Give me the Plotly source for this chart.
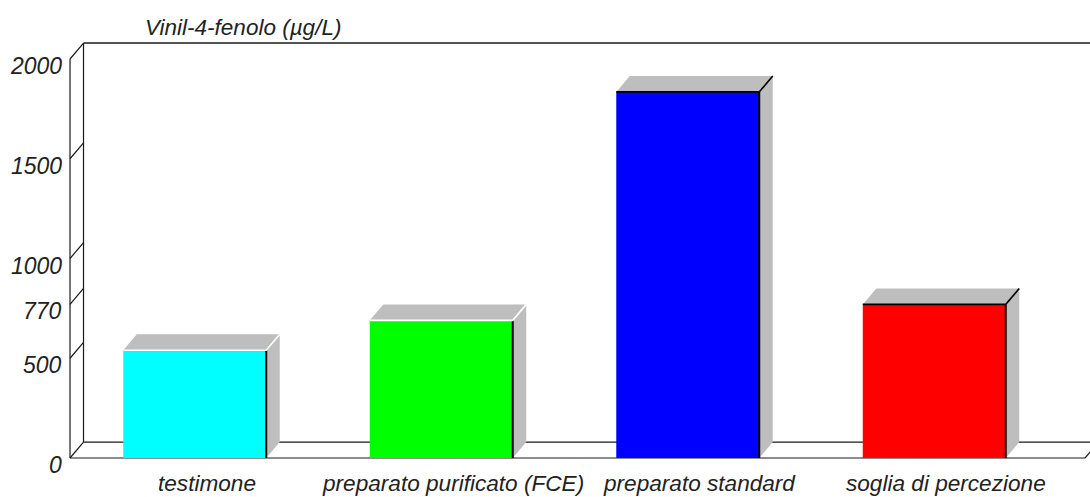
import plotly.graph_objects as go

# Vinyl-4-phenol content per sample (µg/L)
categories = ["testimone", "preparato purificato (FCE)", "preparato standard", "soglia di percezione"]
values = [540, 690, 1835, 770]
bar_colors = ["#00FFFF", "#00FF00", "#0000FF", "#FF0000"]
highlight_colors = ["white", "white", "black", "black"]
y_tick_values = [0, 500, 770, 1000, 1500, 2000]
y_tick_labels = ["0", "500", "770", "1000", "1500", "2000"]
title_text = "Vinil-4-fenolo (µg/L)"

# pseudo-3D geometry, in axis units
BAR_W = 0.58
DX = 0.0548          # depth offset along x
DY = 80              # depth offset along y
WALL_X = -0.506      # front edge of the left wall
Y_TOP = 2000
FLOOR_END = 3.6116
X_RANGE = [-0.5872, 3.6318]
Y_RANGE = [-45.1, 2195.5]

FACE_GRAY = "rgb(190,190,190)"
FRAME = "#1a1a1a"
FONT = "Liberation Sans, Arial, sans-serif"
TEXT_COLOR = "#222222"

x_pos = list(range(len(categories)))

fig = go.Figure()

# front faces of the bars
fig.add_trace(go.Bar(
    x=x_pos, y=values, width=BAR_W,
    marker=dict(color=bar_colors, line=dict(width=0)),
    hoverinfo="skip",
))

# top and side faces, plus edge strokes
for i, v in enumerate(values):
    xl, xr = i - BAR_W / 2, i + BAR_W / 2
    fig.add_trace(go.Scatter(
        x=[xl, xl + DX, xr + DX, xr, xl],
        y=[v, v + DY, v + DY, v, v],
        fill="toself", fillcolor=FACE_GRAY, mode="lines",
        line=dict(width=0, color=FACE_GRAY), hoverinfo="skip",
    ))
    fig.add_trace(go.Scatter(
        x=[xr, xr, xr + DX, xr + DX, xr],
        y=[0, v, v + DY, DY, 0],
        fill="toself", fillcolor=FACE_GRAY, mode="lines",
        line=dict(width=0, color=FACE_GRAY), hoverinfo="skip",
    ))
    fig.add_trace(go.Scatter(
        x=[xr, xr], y=[0, v], mode="lines",
        line=dict(width=2, color="black"), hoverinfo="skip",
    ))
    fig.add_trace(go.Scatter(
        x=[xl, xr, xr + DX], y=[v, v, v + DY], mode="lines",
        line=dict(width=1.6, color=highlight_colors[i]), hoverinfo="skip",
    ))

# frame: left wall, back wall, floor
shapes = []


def seg(x0, y0, x1, y1, w=1.2):
    shapes.append(dict(type="line", xref="x", yref="y", x0=x0, y0=y0, x1=x1, y1=y1,
                       line=dict(color=FRAME, width=w), layer="below"))


seg(WALL_X, 0, WALL_X, Y_TOP)
seg(WALL_X + DX, DY, WALL_X + DX, Y_TOP + DY)
for v in y_tick_values:
    seg(WALL_X, v, WALL_X + DX, v + DY)
seg(WALL_X + DX, Y_TOP + DY, X_RANGE[1] + 1, Y_TOP + DY, 1.5)
seg(WALL_X + DX, DY, X_RANGE[1] + 1, DY)
seg(WALL_X, 0, FLOOR_END, 0)
seg(FLOOR_END, 0, FLOOR_END + DX, DY)

annotations = []
for v, lab in zip(y_tick_values, y_tick_labels):
    annotations.append(dict(
        x=WALL_X, y=v, xref="x", yref="y", text=lab, showarrow=False,
        xanchor="right", yanchor="middle", xshift=-6, yshift=-7,
        font=dict(family=FONT, size=23, color=TEXT_COLOR, style="italic"),
    ))
for i, lab in enumerate(categories):
    annotations.append(dict(
        x=i, y=0, xref="x", yref="y", text=lab, showarrow=False,
        xanchor="center", yanchor="middle", yshift=-25, xshift=12,
        font=dict(family=FONT, size=22.6, color=TEXT_COLOR, style="italic"),
    ))

fig.update_layout(
    width=1090, height=497,
    margin=dict(l=50, r=0, t=20, b=30),
    paper_bgcolor="white", plot_bgcolor="white",
    showlegend=False, hovermode=False,
    shapes=shapes, annotations=annotations,
    title=dict(
        text=title_text, x=145 / 1090, xanchor="left", y=1 - 27 / 497, yanchor="middle",
        font=dict(family=FONT, size=22.5, color=TEXT_COLOR, style="italic"),
    ),
    xaxis=dict(range=X_RANGE, visible=False, fixedrange=True),
    yaxis=dict(range=Y_RANGE, visible=False, fixedrange=True),
)

fig.write_html("out.html")
